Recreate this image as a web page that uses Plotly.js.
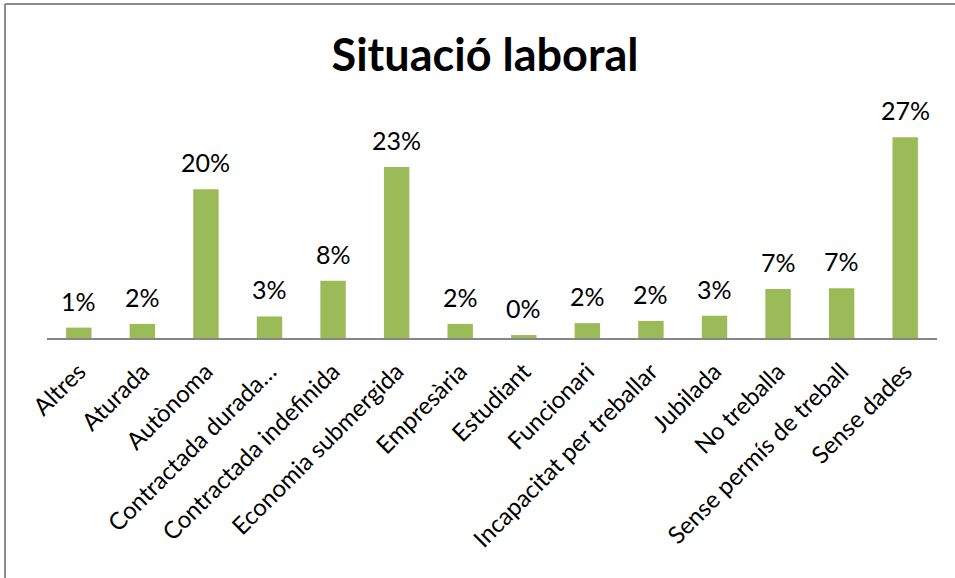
<!DOCTYPE html>
<html>
<head>
<meta charset="utf-8">
<script src="https://cdn.plot.ly/plotly-3.0.1.min.js"></script>
<style>html,body{margin:0;padding:0;background:#fff;}#chart{width:955px;height:578px;}</style>
</head>
<body>
<div id="chart"></div>
<script>
const categories = ["Altres","Aturada","Autònoma","Contractada durada…","Contractada indefinida","Economia submergida","Empresària","Estudiant","Funcionari","Incapacitat per treballar","Jubilada","No treballa","Sense permís de treball","Sense dades"];
const values = [0.014,0.019,0.200,0.029,0.077,0.230,0.019,0.004,0.020,0.023,0.030,0.066,0.067,0.270];
const labels = values.map(v => Math.round(v*100) + "%");

const trace = {
  type: "bar",
  x: categories,
  y: values,
  marker: {color: "#9BBB59"},
  hoverinfo: "skip"
};

const annotations = categories.map((c, i) => ({
  x: c, y: values[i], xref: "x", yref: "y",
  text: labels[i], showarrow: false,
  yanchor: "bottom", yshift: 10,
  font: {family: "Lato, 'Open Sans', sans-serif", size: 25, color: "#000"}
}));

const H = 223, T = 115, L = 47, W = 890;
const shapes = [
  {type:"line", xref:"paper", yref:"paper", x0:(5-L)/W, x1:(955-L)/W, y0:(T+H-4)/H, y1:(T+H-4)/H, line:{color:"#8c8c8c", width:2}},
  {type:"line", xref:"paper", yref:"paper", x0:(5-L)/W, x1:(5-L)/W, y0:(T+H-578)/H, y1:(T+H-4)/H, line:{color:"#8c8c8c", width:2}}
];

const layout = {
  width: 955, height: 578,
  margin: {l: L, r: 955-L-W, t: T, b: 578-T-H},
  paper_bgcolor: "#fff", plot_bgcolor: "#fff",
  showlegend: false,
  bargap: 0.6,
  title: {text: "Situació laboral", font: {family: "Lato, 'Open Sans', sans-serif", size: 45, color: "#000", weight: "bold"}, x: (485-L)/W, xanchor: "center", xref: "paper", y: 1 - 55/578, yanchor: "middle"},
  xaxis: {
    tickangle: -45,
    showline: true, linecolor: "#868686", linewidth: 2,
    showgrid: false, zeroline: false, ticks: "",
    ticklabelstandoff: 8,
    tickfont: {family: "Lato, 'Open Sans', sans-serif", size: 24, color: "#000"}
  },
  yaxis: {range: [0, 0.30], visible: false, showgrid: false, zeroline: false},
  annotations: annotations,
  shapes: shapes
};

Plotly.newPlot("chart", [trace], layout, {displayModeBar: false, staticPlot: true});
</script>
</body>
</html>
